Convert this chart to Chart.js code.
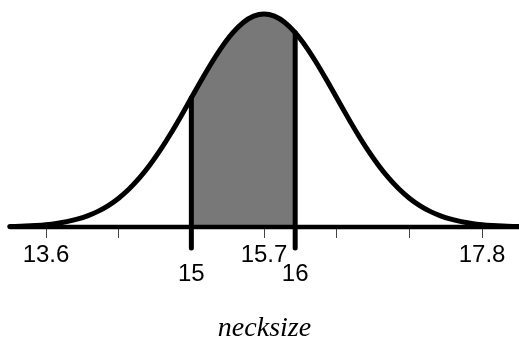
<!DOCTYPE html>
<html>
<head>
<meta charset="utf-8">
<script src="https://cdn.jsdelivr.net/npm/chart.js@4/dist/chart.umd.min.js"></script>
<style>
  html, body { margin: 0; padding: 0; background: #ffffff; }
  canvas { display: block; }
</style>
</head>
<body>
<canvas id="c" width="519" height="343"></canvas>
<script>
// ---- data ----
const curveX = [13.25, 13.3, 13.4, 13.5, 13.6, 13.7, 13.8, 13.9, 14.0, 14.1, 14.2, 14.3, 14.4, 14.5, 14.6, 14.7, 14.8, 14.9,
  15.0, 15.1, 15.2, 15.3, 15.4, 15.5, 15.6, 15.7, 15.8, 15.9, 16.0, 16.1, 16.2, 16.3, 16.4, 16.5, 16.6, 16.7, 16.8, 16.9,
  17.0, 17.1, 17.2, 17.3, 17.4, 17.5, 17.6, 17.7, 17.8, 17.9, 18.0, 18.1, 18.15];
const curveY = [0.0022, 0.0028, 0.0045, 0.0072, 0.0111, 0.0169, 0.0251, 0.0367, 0.0524, 0.0734, 0.1007, 0.1353, 0.1783, 0.2301, 0.2910, 0.3604, 0.4376, 0.5205,
  0.6065, 0.6926, 0.7748, 0.8494, 0.9123, 0.9600, 0.9898, 1.0000, 0.9898, 0.9600, 0.9123, 0.8494, 0.7748, 0.6926, 0.6065, 0.5205, 0.4376, 0.3604, 0.2910, 0.2301,
  0.1783, 0.1353, 0.1007, 0.0734, 0.0524, 0.0367, 0.0251, 0.0169, 0.0111, 0.0072, 0.0045, 0.0028, 0.0022];
const shadeFrom = 15;
const shadeTo = 16;
const xMin = 13.253;
const xMax = 18.156;
const majorTicks = [13.6, 15.7, 17.8];
const majorLabels = ['13.6', '15.7', '17.8'];
const minorTicks = [14.3, 16.4, 17.1];
const boundTicks = [15, 16];
const boundLabels = ['15', '16'];
const xTitle = 'necksize';

// ---- derived datasets ----
const curvePts = curveX.map((x, i) => ({ x: x, y: curveY[i] }));
const shadePts = curvePts.filter(p => p.x >= shadeFrom && p.x <= shadeTo);
const yAt = v => curveY[curveX.indexOf(v)];
const lineBottom = -0.0986;
const LW = 5;

const ds = [
  { // axis line
    data: [{ x: xMin, y: 0 }, { x: xMax, y: 0 }],
    borderColor: '#000', borderWidth: 4.5, borderCapStyle: 'round', pointRadius: 0, clip: false, fill: false
  },
  { // curve
    data: curvePts,
    borderColor: '#000', borderWidth: LW, borderCapStyle: 'round', cubicInterpolationMode: 'monotone',
    pointRadius: 0, clip: false, fill: false
  },
  { // left boundary line
    data: [{ x: shadeFrom, y: lineBottom }, { x: shadeFrom, y: yAt(shadeFrom) }],
    borderColor: '#000', borderWidth: LW, borderCapStyle: 'round', pointRadius: 0, clip: false, fill: false
  },
  { // right boundary line
    data: [{ x: shadeTo, y: lineBottom }, { x: shadeTo, y: yAt(shadeTo) }],
    borderColor: '#000', borderWidth: LW, borderCapStyle: 'round', pointRadius: 0, clip: false, fill: false
  },
  { // shaded area
    data: shadePts,
    borderWidth: 0, borderColor: 'rgba(0,0,0,0)', backgroundColor: '#787878',
    cubicInterpolationMode: 'monotone', pointRadius: 0, fill: 'origin', clip: false
  }
];

const allTicks = majorTicks.concat(minorTicks, boundTicks).sort((a, b) => a - b);

new Chart(document.getElementById('c'), {
  type: 'line',
  data: { datasets: ds },
  options: {
    responsive: false,
    animation: false,
    events: [],
    layout: { padding: { left: 10, right: 0, top: 0, bottom: 0 } },
    plugins: { legend: { display: false }, tooltip: { enabled: false } },
    scales: {
      y: {
        type: 'linear', display: false, min: -0.00939, max: 1.0657, bounds: 'data'
      },
      x: {
        type: 'linear', position: 'bottom', min: xMin, max: xMax, bounds: 'data',
        border: { display: false },
        grid: { display: true, drawOnChartArea: false, drawTicks: true, tickLength: 9, color: '#444', lineWidth: 1 },
        afterBuildTicks: (scale) => { scale.ticks = allTicks.map(v => ({ value: v })); },
        ticks: {
          autoSkip: false, maxRotation: 0, minRotation: 0, padding: 7.25, color: '#000',
          font: { family: 'Liberation Sans, Arial, sans-serif', size: 24, lineHeight: '19.5px' },
          callback: (v) => {
            let i = majorTicks.indexOf(v);
            if (i >= 0) return majorLabels[i];
            i = boundTicks.indexOf(v);
            if (i >= 0) return ['', boundLabels[i]];
            return '';
          }
        },
        title: {
          display: true, text: xTitle, color: '#000',
          font: { family: 'Liberation Serif, Times New Roman, serif', size: 28, style: 'italic', lineHeight: 1 },
          padding: { top: 23.5, bottom: 0 }
        }
      }
    }
  }
});
</script>
</body>
</html>
